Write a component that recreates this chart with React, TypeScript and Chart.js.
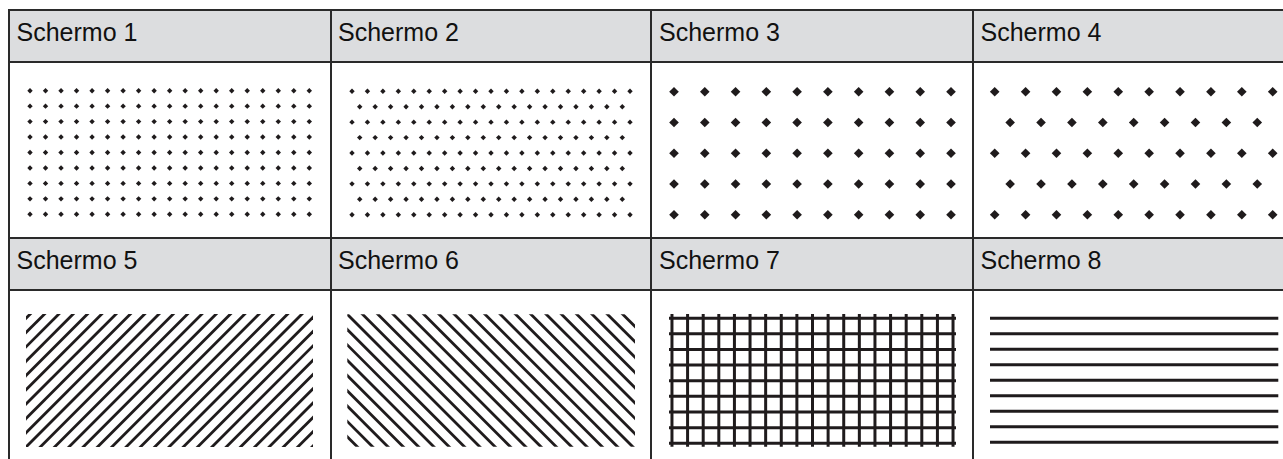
import React, { useEffect, useRef } from "react";
import { Chart, registerables } from "chart.js";

Chart.register(...registerables);

// ---------- DATA ----------
const screenLabels = [
  "Schermo 1",
  "Schermo 2",
  "Schermo 3",
  "Schermo 4",
  "Schermo 5",
  "Schermo 6",
  "Schermo 7",
  "Schermo 8",
];

// Schermo 1: fine square dot grid (19 x 9)
const s1Cols = [0, 1, 2, 3, 4, 5, 6, 7, 8, 9, 10, 11, 12, 13, 14, 15, 16, 17, 18];
const s1Rows = [0, 1, 2, 3, 4, 5, 6, 7, 8];

// Schermo 2: fine staggered dot grid
const s2ColsA = [0, 1, 2, 3, 4, 5, 6, 7, 8, 9, 10, 11, 12, 13, 14, 15, 16, 17, 18];
const s2ColsB = [0.5, 1.5, 2.5, 3.5, 4.5, 5.5, 6.5, 7.5, 8.5, 9.5, 10.5, 11.5, 12.5, 13.5, 14.5, 15.5, 16.5, 17.5];
const s2RowsA = [0, 2, 4, 6, 8];
const s2RowsB = [1, 3, 5, 7];

// Schermo 3: coarse square diamond grid (10 x 5)
const s3Cols = [0, 1, 2, 3, 4, 5, 6, 7, 8, 9];
const s3Rows = [0, 1, 2, 3, 4];

// Schermo 4: coarse staggered diamond grid
const s4ColsA = [0, 1, 2, 3, 4, 5, 6, 7, 8, 9];
const s4ColsB = [0.5, 1.5, 2.5, 3.5, 4.5, 5.5, 6.5, 7.5, 8.5];
const s4RowsA = [0, 2, 4];
const s4RowsB = [1, 3];

// Schermo 5: "/" hatch, line offsets (x - y = c)
const s5Offsets = [-11, -10, -9, -8, -7, -6, -5, -4, -3, -2, -1, 0, 1, 2, 3, 4, 5, 6, 7, 8, 9, 10, 11, 12, 13, 14, 15, 16, 17, 18, 19, 20, 21];

// Schermo 6: "\" hatch, line offsets (x + y = c)
const s6Offsets = [-1, 0, 1, 2, 3, 4, 5, 6, 7, 8, 9, 10, 11, 12, 13, 14, 15, 16, 17, 18, 19, 20, 21, 22, 23, 24, 25, 26, 27, 28, 29, 30];

// Schermo 7: square grid lines
const s7Verticals = [0, 1, 2, 3, 4, 5, 6, 7, 8, 9, 10, 11, 12, 13, 14, 15, 16, 17, 18];
const s7Horizontals = [0, 1, 2, 3, 4, 5, 6, 7, 8];

// Schermo 8: horizontal lines
const s8Lines = [0, 1, 2, 3, 4, 5, 6, 7, 8];

// ---------- STYLE ----------
const INK = "#1f1b1c";
const HEADER_BG = "#dcdddf";
const BORDER = "#2a2a2a";
const FONT = '"Liberation Sans", Arial, sans-serif';

type Pt = { x: number; y: number };

function grid(cols: number[], rows: number[]): Pt[] {
  const out: Pt[] = [];
  rows.forEach((r) => cols.forEach((c) => out.push({ x: c, y: r })));
  return out;
}

function dotSet(data: Pt[], radius: number) {
  return {
    data,
    pointStyle: "rectRot",
    pointRadius: radius,
    pointBackgroundColor: INK,
    pointBorderWidth: 0,
    pointBorderColor: INK,
    showLine: false,
    clip: false,
  };
}

function lineSet(a: Pt, b: Pt, width: number, clip: number | false) {
  return {
    data: [a, b],
    showLine: true,
    borderColor: INK,
    borderWidth: width,
    borderCapStyle: "butt",
    pointRadius: 0,
    clip,
  };
}

type Spec = {
  box: [number, number, number, number]; // chart area in page px: x0, y0, x1, y1
  x: [number, number];
  y: [number, number];
  reverse: boolean;
  datasets: any[];
};

const M = 12;

const specs: Spec[] = [
  {
    box: [30, 90.7, 309.3, 214.3],
    x: [0, 18],
    y: [0, 8],
    reverse: true,
    datasets: [dotSet(grid(s1Cols, s1Rows), 2.7)],
  },
  {
    box: [352, 91.3, 630, 214.7],
    x: [0, 18],
    y: [0, 8],
    reverse: true,
    datasets: [dotSet(grid(s2ColsA, s2RowsA), 2.7), dotSet(grid(s2ColsB, s2RowsB), 2.7)],
  },
  {
    box: [674, 91.7, 951, 214.7],
    x: [0, 9],
    y: [0, 4],
    reverse: true,
    datasets: [dotSet(grid(s3Cols, s3Rows), 4.8)],
  },
  {
    box: [994.7, 91.7, 1272.7, 214.7],
    x: [0, 9],
    y: [0, 4],
    reverse: true,
    datasets: [dotSet(grid(s4ColsA, s4RowsA), 4.8), dotSet(grid(s4ColsB, s4RowsB), 4.8)],
  },
  {
    box: [26, 314, 313, 447],
    x: [0, 20.07],
    y: [0, 9.3],
    reverse: false,
    datasets: s5Offsets.map((c) => lineSet({ x: c - 1, y: -1 }, { x: c + 11, y: 11 }, 2.8, 0)),
  },
  {
    box: [347.3, 314.3, 635, 446.7],
    x: [0, 18.8],
    y: [0.35, 9.0],
    reverse: false,
    datasets: s6Offsets.map((c) => lineSet({ x: c + 1, y: -1 }, { x: c - 11, y: 11 }, 2.8, 0)),
  },
  {
    box: [669, 314, 956, 446.7],
    x: [-0.19, 18.19],
    y: [-0.27, 8.22],
    reverse: true,
    datasets: [
      ...s7Verticals.map((v) => lineSet({ x: v, y: -1 }, { x: v, y: 9 }, 3, 0)),
      ...s7Horizontals.map((h) => lineSet({ x: -1, y: h }, { x: 19, y: h }, 3, 0)),
    ],
  },
  {
    box: [990, 318.3, 1278.3, 442.3],
    x: [0, 1],
    y: [0, 8],
    reverse: true,
    datasets: s8Lines.map((h) => lineSet({ x: 0, y: h }, { x: 1, y: h }, 3, false)),
  },
];

function Swatch({ spec }: { spec: Spec }) {
  const ref = useRef<HTMLCanvasElement>(null);
  const [x0, y0, x1, y1] = spec.box;
  const left = Math.floor(x0) - M;
  const top = Math.floor(y0) - M;
  const right = Math.ceil(x1) + M;
  const bottom = Math.ceil(y1) + M;
  const w = right - left;
  const h = bottom - top;

  useEffect(() => {
    if (!ref.current) return;
    const chart = new Chart(ref.current, {
      type: "scatter",
      data: { datasets: spec.datasets },
      options: {
        animation: false,
        responsive: false,
        maintainAspectRatio: false,
        devicePixelRatio: 1,
        events: [],
        layout: {
          padding: { left: x0 - left, top: y0 - top, right: right - x1, bottom: bottom - y1 },
        },
        plugins: {
          legend: { display: false },
          tooltip: { enabled: false },
          title: { display: false },
        },
        scales: {
          x: { type: "linear", display: false, min: spec.x[0], max: spec.x[1] },
          y: { type: "linear", display: false, min: spec.y[0], max: spec.y[1], reverse: spec.reverse },
        },
      } as any,
    } as any);
    return () => chart.destroy();
  }, []);

  return (
    <canvas
      ref={ref}
      width={w}
      height={h}
      style={{ position: "absolute", left, top, width: w, height: h }}
    />
  );
}

const colLefts = [9, 330.5, 651.5, 973];
const vLines = [8, 330, 650, 972];
const hLines = [9, 61, 237, 289];
const headerTops = [10, 238];

export default function App() {
  return (
    <div
      style={{
        position: "fixed",
        left: 0,
        top: 0,
        width: 1283,
        height: 459,
        overflow: "hidden",
        background: "#ffffff",
      }}
    >
      {/* header backgrounds */}
      <div style={{ position: "absolute", left: 9, top: 11, width: 1290, height: 50, background: HEADER_BG }} />
      <div style={{ position: "absolute", left: 9, top: 239, width: 1290, height: 50, background: HEADER_BG }} />

      {/* header labels */}
      {screenLabels.map((label, i) => {
        const col = i % 4;
        const row = Math.floor(i / 4);
        return (
          <div
            key={label}
            style={{
              position: "absolute",
              left: colLefts[col] + 7.5,
              top: headerTops[row] + 8.3,
              fontFamily: FONT,
              fontSize: 25,
              lineHeight: "28px",
              color: "#111111",
              whiteSpace: "nowrap",
            }}
          >
            {label}
          </div>
        );
      })}

      {/* table rules */}
      {hLines.map((y) => (
        <div key={"h" + y} style={{ position: "absolute", left: 8, top: y, width: 1290, height: 2, background: BORDER }} />
      ))}
      {vLines.map((x) => (
        <div key={"v" + x} style={{ position: "absolute", left: x, top: 9, width: 2, height: 460, background: BORDER }} />
      ))}

      {/* swatches */}
      {specs.map((s, i) => (
        <Swatch key={i} spec={s} />
      ))}
    </div>
  );
}
